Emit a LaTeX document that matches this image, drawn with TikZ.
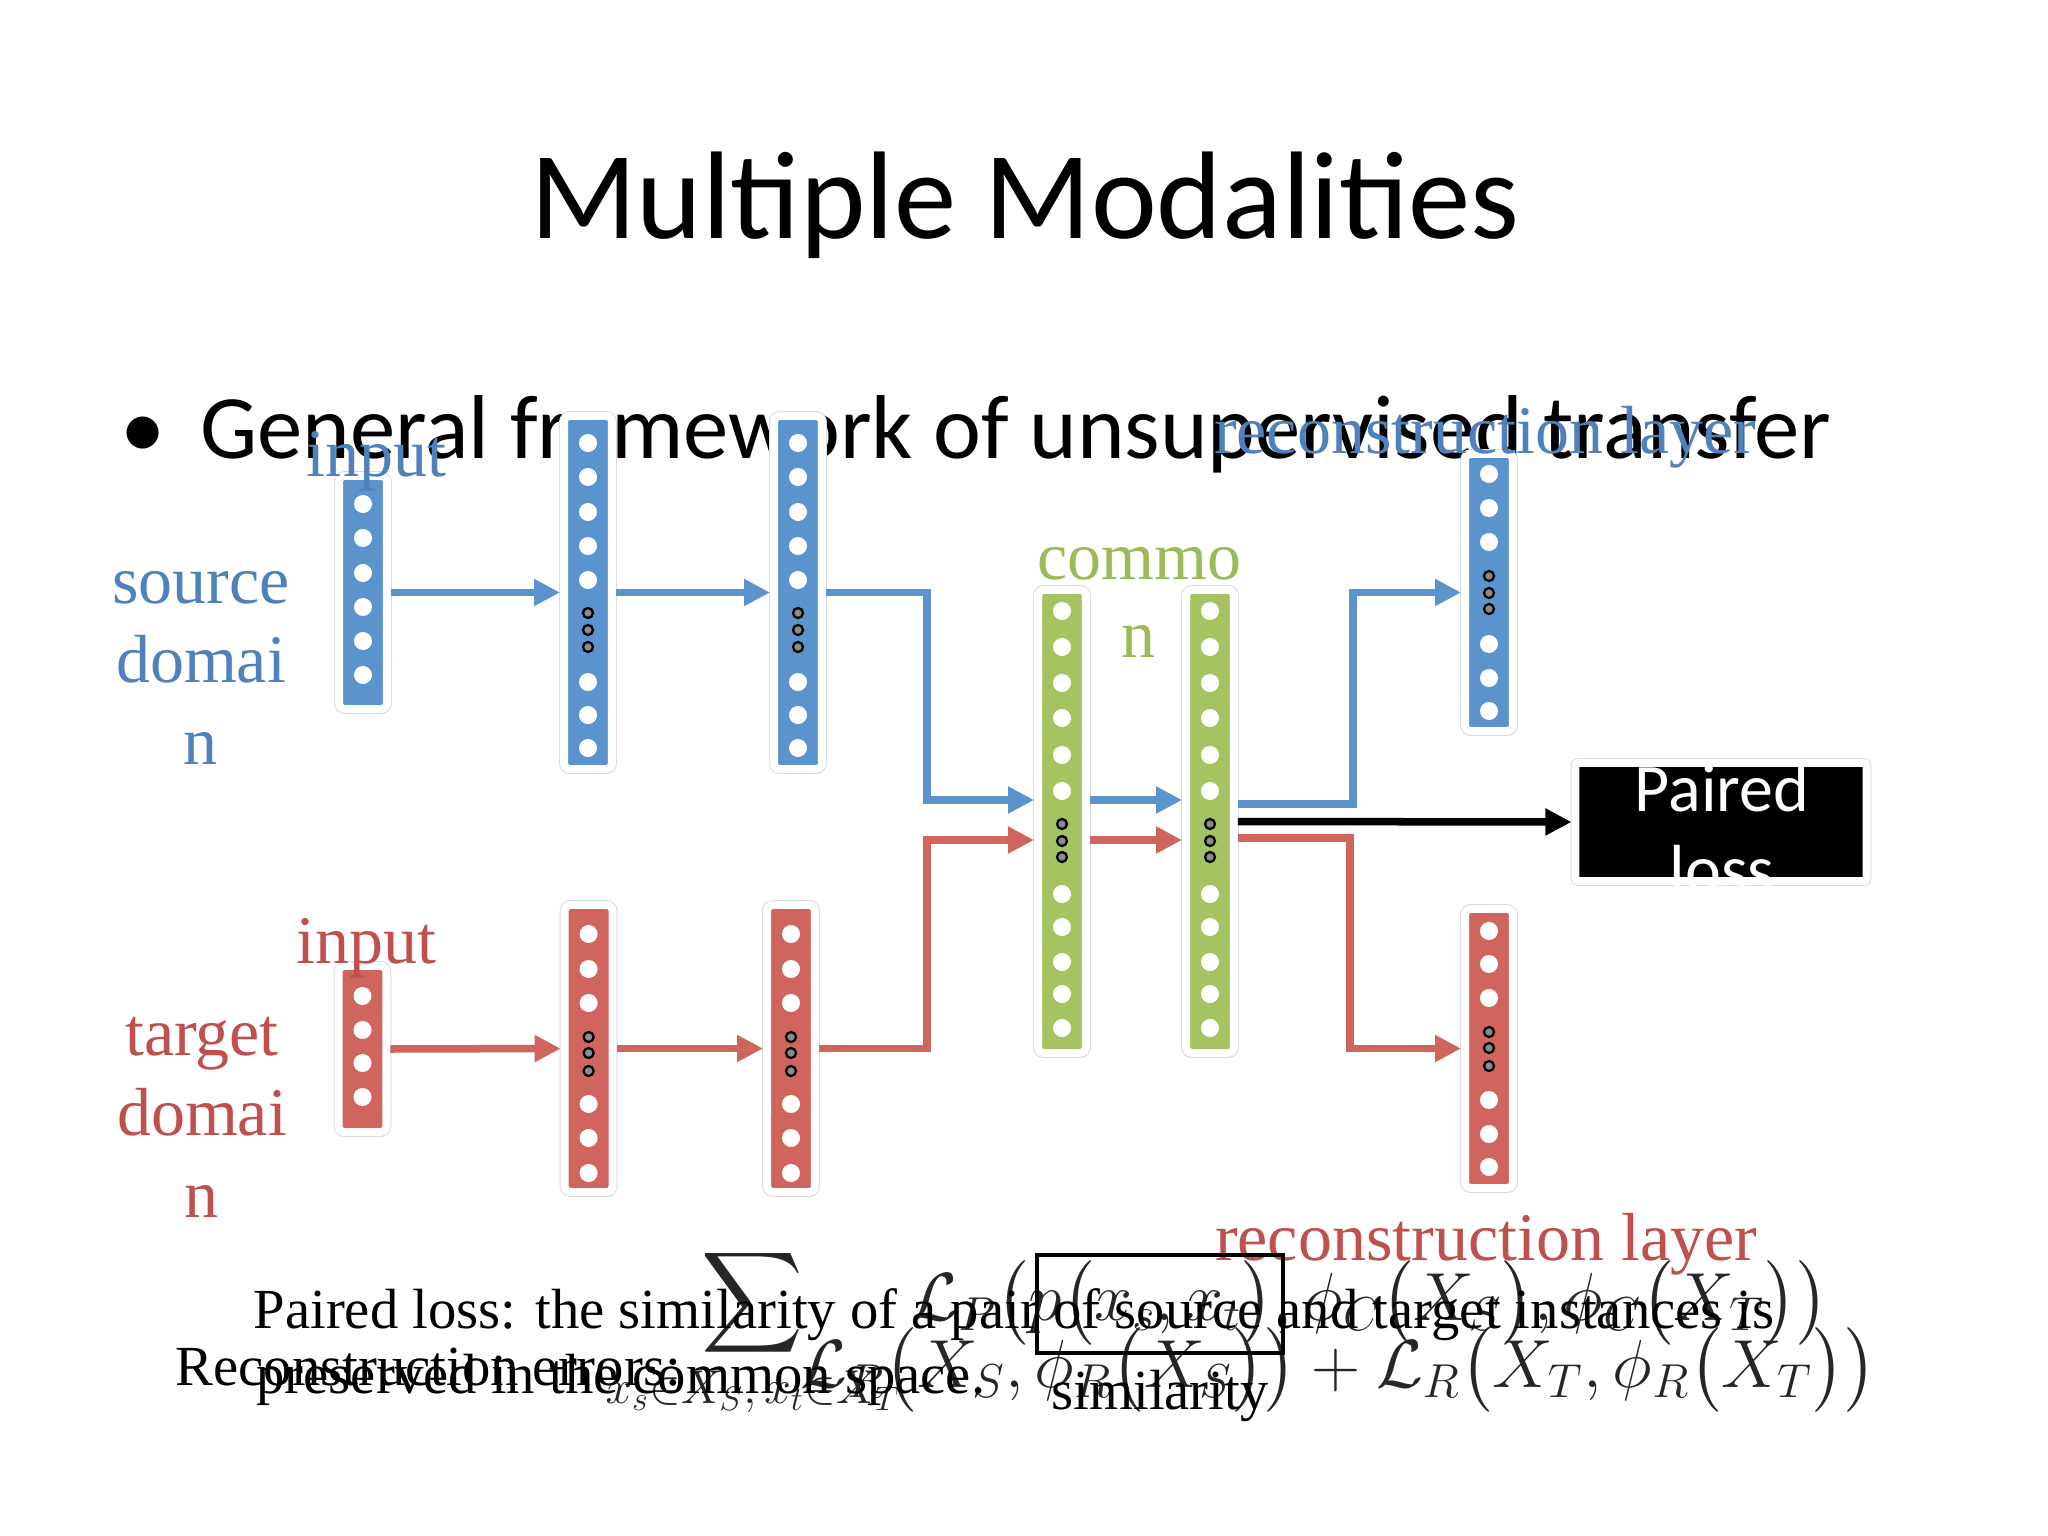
\RequirePackage{fix-cm}
\documentclass[tikz,border=0pt]{standalone}
\usepackage{amsmath}
\usepackage{fontspec}
\newfontfamily\calibri[Ligatures={Common,Rare}]{Carlito}
\newfontfamily\tnr{Liberation Serif}
\usetikzlibrary{arrows.meta,shadows,positioning}

\definecolor{NetBlue}{HTML}{5B93CD}
\definecolor{NetRed}{HTML}{D0655E}
\definecolor{NetGreen}{HTML}{A5C461}
\definecolor{TextBlue}{HTML}{4F81BD}
\definecolor{TextRed}{HTML}{C0504D}
\definecolor{TextGreen}{HTML}{9BBB59}

\def\px{0.0048828in} % one pixel of the slide

\tikzset{
	every node/.style={inner sep=0pt},
	layer/.style={rectangle, rounded corners=2.1pt, draw=white, line width=2.8pt, minimum width=16.9pt,
		preaction={draw=black!14, line width=3.5pt},
		drop shadow={shadow xshift=0.5pt, shadow yshift=-1.4pt, opacity=0.3}},
	ellip/.style={draw=black, line width=0.8pt, fill=black!45},
	flow/.style={line width=2.65pt, -{Triangle[length=9.2pt,width=9pt]}},
	lbl/.style={anchor=base, font=\tnr\fontsize{24}{28}\selectfont},
	bodytxt/.style={anchor=base west, font=\tnr\fontsize{20}{23}\selectfont},
	eqn/.style={anchor=base west, font=\fontsize{24}{28}\selectfont, text=black!85}
}

\begin{document}
\begin{tikzpicture}[x=\px, y=-\px]
	\useasboundingbox (0,0) rectangle (2048,1536);
	\fill[white] (0,0) rectangle (2048,1536);
	
	% title and bullet
	\node[anchor=base, font=\calibri\fontsize{44}{53}\selectfont] (title) at (1025,239) {Multiple Modalities};
	\node[anchor=base west, font=\calibri\fontsize{32}{38}\selectfont] (bullet) at (120,458) {\textbullet};
	\node[anchor=base west, font=\calibri\fontsize{32}{38}\selectfont] (subtitle) at (200,458) {General framework of unsupervised transfer};
	
	% layers
	\node[layer, fill=NetBlue, minimum height={233*\px}] (inS) at (363,592.5) {};
	\node[layer, fill=NetBlue, minimum height={353*\px}] (hS1) at (588,592.5) {};
	\node[layer, fill=NetBlue, minimum height={353*\px}] (hS2) at (798,592.5) {};
	\node[layer, fill=NetRed, minimum height={166*\px}] (inT) at (362.5,1049) {};
	\node[layer, fill=NetRed, minimum height={287*\px}] (hT1) at (588.6,1048.5) {};
	\node[layer, fill=NetRed, minimum height={287*\px}] (hT2) at (791,1048.5) {};
	\node[layer, fill=NetGreen, minimum height={463*\px}] (c1) at (1062,821.5) {};
	\node[layer, fill=NetGreen, minimum height={463*\px}] (c2) at (1210,821.5) {};
	\node[layer, fill=NetBlue, minimum height={277*\px}] (rS) at (1489,592.5) {};
	\node[layer, fill=NetRed, minimum height={279*\px}] (rT) at (1489,1048.5) {};
	\node[layer, fill=black, rounded corners=1pt, minimum width={291*\px}, minimum height={118*\px}] (pairedloss) at (1721,822) {};
	
	% units
	\foreach \y in {504,538,573,607,641,675}
		\fill[white] (363,\y) circle[radius=9];
	\foreach \y in {996,1030,1063,1097}
		\fill[white] (362.5,\y) circle[radius=9];
	\foreach \x in {588,798}{
		\foreach \y in {443,477,512,546,580,682,715,748}
			\fill[white] (\x,\y) circle[radius=9];
		\foreach \y in {613,630,647}
			\draw[ellip] (\x,\y) circle[radius=5];
	}
	\foreach \x in {588.6,791}{
		\foreach \y in {934,969,1003,1104,1138,1173}
			\fill[white] (\x,\y) circle[radius=9];
		\foreach \y in {1037,1053,1071}
			\draw[ellip] (\x,\y) circle[radius=5];
	}
	\foreach \x in {1062,1210}{
		\foreach \y in {611,647,683,718,755,791,894,927,962,994,1028}
			\fill[white] (\x,\y) circle[radius=9];
		\foreach \y in {824,841,857}
			\draw[ellip] (\x,\y) circle[radius=5];
	}
	\foreach \y in {474,508,542,644,678,711}
		\fill[white] (1489,\y) circle[radius=9];
	\foreach \y in {576,593,609}
		\draw[ellip] (1489,\y) circle[radius=5];
	\foreach \y in {931,964,998,1100,1134,1167}
		\fill[white] (1489,\y) circle[radius=9];
	\foreach \y in {1032,1048,1066}
		\draw[ellip] (1489,\y) circle[radius=5];
	
	% connections
	\coordinate (bS) at (927,800);
	\coordinate (bT) at (927,840);
	\coordinate (oS) at (1353,804);
	\coordinate (oT) at (1350,838);
	\draw[flow, NetBlue] (inS.east) -- (hS1.west);
	\draw[flow, NetBlue] (hS1.east) -- (hS2.west);
	\draw[flow, NetRed] (inT.east) -- (hT1.west);
	\draw[flow, NetRed] (hT1.east) -- (hT2.west);
	\draw[flow, NetBlue] (hS2.east) -| (bS) -- (bS -| c1.west);
	\draw[flow, NetRed] (hT2.east) -| (bT) -- (bT -| c1.west);
	\draw[flow, NetBlue] (bS -| c1.east) -- (bS -| c2.west);
	\draw[flow, NetRed] (bT -| c1.east) -- (bT -| c2.west);
	\draw[flow, NetBlue] (oS -| c2.east) -- (oS) |- (rS.west);
	\draw[flow, NetRed] (oT -| c2.east) -- (oT) |- (rT.west);
	\draw[flow, black] (c2.east) -- (pairedloss.west);
	
	\node[align=center, text=white, font=\calibri\fontsize{24}{28.6}\selectfont] (pairedtxt) at (1722,829) {Paired\\loss};
	
	% labels
	\node[lbl, text=TextBlue] (srcA) at (201,603) {source};
	\node[lbl, text=TextBlue] (srcB) at (201,682) {domai};
	\node[lbl, text=TextBlue] (srcC) at (201,764) {n};
	\node[lbl, text=TextRed] (tgtA) at (202,1055) {target};
	\node[lbl, text=TextRed] (tgtB) at (202,1135) {domai};
	\node[lbl, text=TextRed] (tgtC) at (202,1217) {n};
	\node[lbl, text=TextBlue] (inSlbl) at (376,476) {input};
	\node[lbl, text=TextRed] (inTlbl) at (366,963) {input};
	\node[lbl, text=TextGreen] (comA) at (1139,579) {commo};
	\node[lbl, text=TextGreen] (comB) at (1138,657) {n};
	\node[lbl, text=TextBlue] (rSlbl) at (1485,453) {reconstruction layer};
	\node[lbl, text=TextRed] (rTlbl) at (1486,1260) {reconstruction layer};
	
	% losses
	\node[eqn] (fpair) at (605,1320) {$\displaystyle\sum_{x_s\in X_S,\,x_t\in X_T}\mathcal{L}_P\bigl(p\bigl(x_s,x_t\bigr),\phi_C\bigl(X_S\bigr),\phi_C\bigl(X_T\bigr)\bigr)$};
	\node[eqn] (frec) at (800,1387) {$\mathcal{L}_R\bigl(X_S,\phi_R\bigl(X_S\bigr)\bigr)+\mathcal{L}_R\bigl(X_T,\phi_R\bigl(X_T\bigr)\bigr)$};
	\node[bodytxt] (plossA) at (253,1328) {Paired loss: the similarity of a pair of source and target instances is};
	\node[bodytxt] (plossB) at (256,1393) {preserved in the common space.};
	\node[bodytxt] (recerr) at (175,1385) {Reconstruction errors:};
	\node[draw, line width=1.4pt, minimum width={246*\px}, minimum height={98*\px}] (simbox) at (1160,1304) {};
	\node[below=5pt of simbox, font=\tnr\fontsize{20}{23}\selectfont] (simlbl) {similarity};
	
\end{tikzpicture}
\end{document}
